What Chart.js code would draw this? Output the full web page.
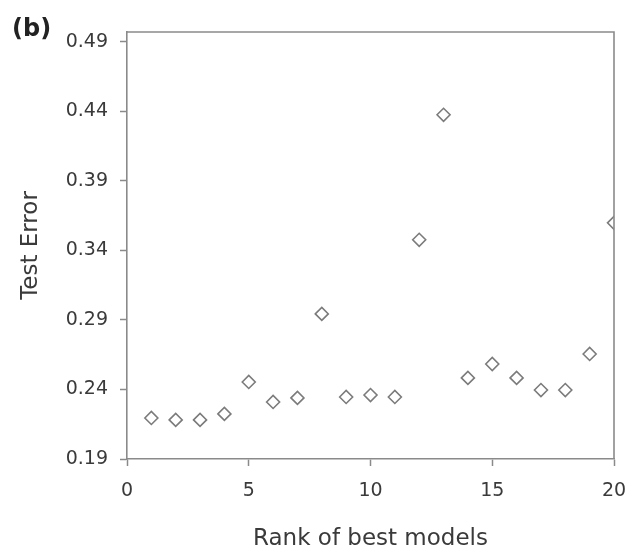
<!DOCTYPE html>
<html>
<head>
<meta charset="utf-8">
<title>Test error by rank</title>
<script src="https://cdn.jsdelivr.net/npm/chart.js@4.4.1/dist/chart.umd.min.js"></script>
<style>
  html, body { margin: 0; padding: 0; background: #fff; }
  #wrap { width: 633px; height: 559px; }
</style>
</head>
<body>
<div id="wrap"><canvas id="errorChart" width="633" height="559"></canvas></div>
<script>
// rank of each model and its test error
const ranks = [1, 2, 3, 4, 5, 6, 7, 8, 9, 10, 11, 12, 13, 14, 15, 16, 17, 18, 19, 20];
const testErrors = [0.2195, 0.2181, 0.2181, 0.2224, 0.2454, 0.2310, 0.2339, 0.2943, 0.2346, 0.2360,
                    0.2346, 0.3476, 0.4375, 0.2483, 0.2583, 0.2483, 0.2396, 0.2396, 0.2655, 0.3598];
const yTickValues = [0.19, 0.24, 0.29, 0.34, 0.39, 0.44, 0.49];
const xTickValues = [0, 5, 10, 15, 20];

const axisGray = '#8a8a8a';
const textColor = '#3a3a3a';

// box around the plot area plus the panel letter
const framePlugin = {
    id: 'frame',
    afterDraw(chart) {
        const { ctx, chartArea } = chart;
        ctx.save();
        ctx.strokeStyle = axisGray;
        ctx.lineWidth = 1.6;
        ctx.beginPath();
        ctx.moveTo(chartArea.left, chartArea.top);
        ctx.lineTo(chartArea.right, chartArea.top);
        ctx.lineTo(chartArea.right, chartArea.bottom);
        ctx.stroke();

        ctx.fillStyle = '#222';
        ctx.font = 'bold 24px "DejaVu Sans"';
        ctx.textBaseline = 'middle';
        ctx.textAlign = 'left';
        ctx.fillText('(b)', 12, 30);
        ctx.restore();
    }
};

const ctx = document.getElementById('errorChart').getContext('2d');

new Chart(ctx, {
    type: 'scatter',
    data: {
        datasets: [{
            label: 'Test Error',
            data: ranks.map((r, i) => ({ x: r, y: testErrors[i] })),
            pointStyle: 'rectRot',
            pointRadius: 6.5,
            pointHoverRadius: 6.5,
            pointBorderColor: '#7b7b7b',
            pointBackgroundColor: '#fff',
            pointBorderWidth: 1.6,
            showLine: false
        }]
    },
    options: {
        responsive: false,
        animation: false,
        layout: { padding: { top: 32, right: 19, left: 0, bottom: 0 } },
        plugins: {
            legend: { display: false },
            tooltip: { enabled: false }
        },
        scales: {
            x: {
                type: 'linear',
                min: 0,
                max: 20,
                afterBuildTicks: scale => { scale.ticks = xTickValues.map(v => ({ value: v })); },
                afterFit: scale => {
                    scale.height = 100;
                    // let the "20" label hang past the plot edge
                    scale.paddingLeft = 0;
                    scale.paddingRight = 0;
                },
                grid: {
                    drawOnChartArea: false,
                    drawTicks: true,
                    tickLength: 7,
                    tickColor: axisGray,
                    tickWidth: 1.5
                },
                border: { display: true, color: axisGray, width: 1.6 },
                ticks: {
                    color: textColor,
                    font: { family: '"DejaVu Sans"', size: 19 },
                    padding: 14,
                    maxRotation: 0,
                    callback: v => String(v)
                },
                title: {
                    display: true,
                    text: 'Rank of best models',
                    color: textColor,
                    font: { family: '"DejaVu Sans"', size: 23 },
                    padding: { top: 0, bottom: 6 }
                }
            },
            y: {
                type: 'linear',
                min: 0.19,
                max: 0.497,
                afterBuildTicks: scale => { scale.ticks = yTickValues.map(v => ({ value: v })); },
                afterFit: scale => {
                    scale.width = 127;
                    scale.paddingTop = 0;
                    scale.paddingBottom = 0;
                },
                grid: {
                    drawOnChartArea: false,
                    drawTicks: true,
                    tickLength: 7,
                    tickColor: axisGray,
                    tickWidth: 1.5
                },
                border: { display: true, color: axisGray, width: 1.6 },
                ticks: {
                    color: textColor,
                    font: { family: '"DejaVu Sans"', size: 19 },
                    padding: 12,
                    callback: v => v.toFixed(2)
                },
                title: {
                    display: true,
                    text: 'Test Error',
                    color: textColor,
                    font: { family: '"DejaVu Sans"', size: 23 },
                    padding: { top: 17, bottom: 0 }
                }
            }
        }
    },
    plugins: [framePlugin]
});
</script>
</body>
</html>
